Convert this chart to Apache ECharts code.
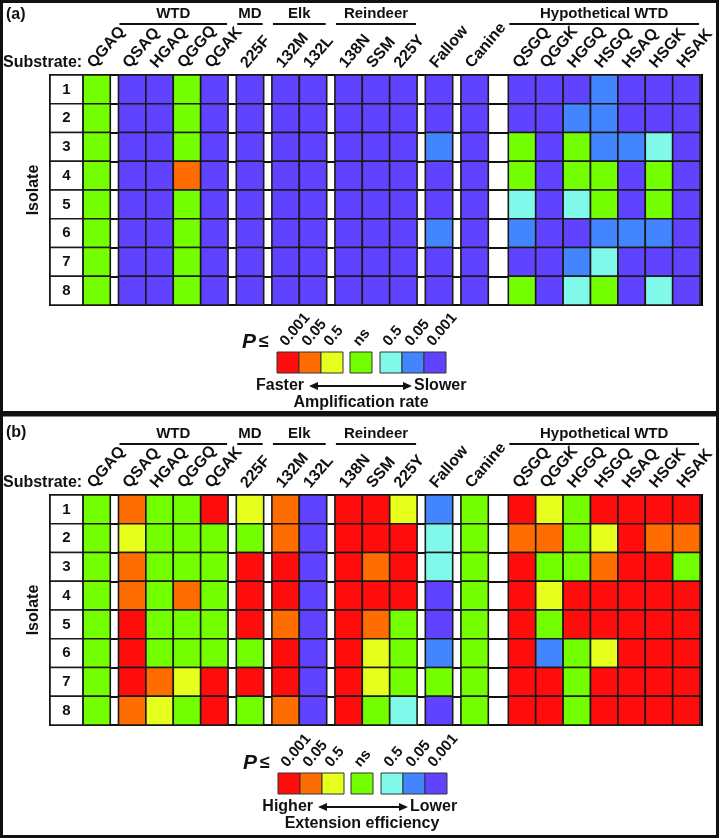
<!DOCTYPE html>
<html>
<head>
<meta charset="utf-8">
<style>
    html, body { margin: 0; padding: 0; background: #fff; }
    #chart { width: 720px; height: 838px; }
</style>
<script src="https://cdn.jsdelivr.net/npm/echarts@6/dist/echarts.min.js"></script>
</head>
<body>
<div id="chart"></div>
<script>
const isolates = ['1', '2', '3', '4', '5', '6', '7', '8']
const substrates = ['QGAQ', 'QSAQ', 'HGAQ', 'QGGQ', 'QGAK', '225F', '132M', '132L', '138N', 'SSM', '225Y',
    'Fallow', 'Canine', 'QSGQ', 'QGGK', 'HGGQ', 'HSGQ', 'HSAQ', 'HSGK', 'HSAK']
// header over each group of substrates ('' = no header)
const groupNames = ['', 'WTD', 'MD', 'Elk', 'Reindeer', '', '', 'Hypothetical WTD']
const groupSizes = [1, 4, 1, 2, 3, 1, 1, 7]

// 3 / 2 / 1 = faster (higher) at P <= 0.001 / 0.05 / 0.5, 0 = ns, -1 / -2 / -3 = slower (lower)
const levelCodes = [3, 2, 1, 0, -1, -2, -3]
const levelLabels = ['0.001', '0.05', '0.5', 'ns', '0.5', '0.05', '0.001']
const levelColors = ['#ff0d0d', '#ff6c00', '#e6ff1c', '#74ff00', '#80f8ea', '#4385ff', '#6043ff']

const amplification = [
    [0, -3, -3, 0, -3, -3, -3, -3, -3, -3, -3, -3, -3, -3, -3, -3, -2, -3, -3, -3],
    [0, -3, -3, 0, -3, -3, -3, -3, -3, -3, -3, -3, -3, -3, -3, -2, -2, -3, -3, -3],
    [0, -3, -3, 0, -3, -3, -3, -3, -3, -3, -3, -2, -3, 0, -3, 0, -2, -2, -1, -3],
    [0, -3, -3, 2, -3, -3, -3, -3, -3, -3, -3, -3, -3, 0, -3, 0, 0, -3, 0, -3],
    [0, -3, -3, 0, -3, -3, -3, -3, -3, -3, -3, -3, -3, -1, -3, -1, 0, -3, 0, -3],
    [0, -3, -3, 0, -3, -3, -3, -3, -3, -3, -3, -2, -3, -2, -3, -3, -2, -2, -2, -3],
    [0, -3, -3, 0, -3, -3, -3, -3, -3, -3, -3, -3, -3, -3, -3, -2, -1, -3, -3, -3],
    [0, -3, -3, 0, -3, -3, -3, -3, -3, -3, -3, -3, -3, 0, -3, -1, 0, -3, -1, -3],
]
const extension = [
    [0, 2, 0, 0, 3, 1, 2, -3, 3, 3, 1, -2, 0, 3, 1, 0, 3, 3, 3, 3],
    [0, 1, 0, 0, 0, 0, 2, -3, 3, 3, 3, -1, 0, 2, 2, 0, 1, 3, 2, 2],
    [0, 2, 0, 0, 0, 3, 3, -3, 3, 2, 3, -1, 0, 3, 0, 0, 2, 3, 3, 0],
    [0, 2, 0, 2, 0, 3, 3, -3, 3, 3, 3, -3, 0, 3, 1, 3, 3, 3, 3, 3],
    [0, 3, 0, 0, 0, 3, 2, -3, 3, 2, 0, -3, 0, 3, 0, 3, 3, 3, 3, 3],
    [0, 3, 0, 0, 0, 0, 3, -3, 3, 1, 0, -2, 0, 3, -2, 0, 1, 3, 3, 3],
    [0, 3, 2, 1, 3, 3, 3, -3, 3, 1, 0, 0, 0, 3, 3, 0, 3, 3, 3, 3],
    [0, 2, 1, 0, 3, 0, 2, -3, 3, 0, -1, -3, 0, 3, 3, 0, 3, 3, 3, 3],
]

const FONT = '"Liberation Sans", Arial, Helvetica, sans-serif'
const INK = '#111'
const TILT = 0.87 // label slant, radians

// column positions on the x value axis (1 unit = one cell)
const LABEL_W = 1.2
const GAP = 0.3
const SPACER = 0.73
const colStart = []
const groupSpan = []
let pos = LABEL_W
groupSizes.forEach((n, g) => {
    if (g > 0) pos += g === groupSizes.length - 1 ? SPACER : GAP
    const s = pos
    for (let i = 0; i < n; i++) {
        colStart.push(pos)
        pos += 1
    }
    groupSpan.push([s, pos])
})
const X_MAX = pos + 0.07

function bandTop(api) {
    const p = api.coord([0, 0])
    return p[1] - api.size([0, 1])[1] / 2
}

function renderCell(params, api) {
    const p = api.coord([api.value(0), api.value(1)])
    const s = api.size([1, 1])
    return {
        type: 'rect',
        shape: { x: p[0], y: p[1] - s[1] / 2, width: s[0], height: s[1] },
        style: { fill: api.visual('color'), stroke: '#1a1a1a', lineWidth: 1.6 },
    }
}

function renderIsolate(params, api) {
    const p = api.coord([0, api.value(1)])
    const s = api.size([LABEL_W, 1])
    return {
        type: 'group',
        children: [{
            type: 'rect',
            shape: { x: p[0], y: p[1] - s[1] / 2, width: s[0], height: s[1] },
            style: { fill: '#fff', stroke: '#1a1a1a', lineWidth: 1.6 },
        }, {
            type: 'text',
            x: p[0] + s[0] / 2,
            y: p[1],
            style: {
                text: isolates[params.dataIndex], font: 'bold 15px ' + FONT, fill: INK,
                align: 'center', verticalAlign: 'middle', textAlign: 'center', textVerticalAlign: 'middle',
            },
        }],
    }
}

function renderSubstrate(params, api) {
    const p = api.coord([api.value(0), 0])
    const top = bandTop(api)
    return {
        type: 'text',
        x: p[0] - 6,
        y: top - 9,
        rotation: TILT,
        style: {
            text: substrates[params.dataIndex], font: 'bold 16px ' + FONT, fill: INK,
            align: 'left', verticalAlign: 'middle', textAlign: 'left', textVerticalAlign: 'middle',
        },
    }
}

function renderHeader(params, api) {
    const a = api.coord([api.value(0), 0])
    const b = api.coord([api.value(2), 0])
    const top = bandTop(api)
    return {
        type: 'group',
        children: [{
            type: 'line',
            shape: { x1: a[0] + 1, y1: top - 51, x2: b[0] - 1, y2: top - 51 },
            style: { stroke: INK, lineWidth: 2 },
        }, {
            type: 'text',
            x: (a[0] + b[0]) / 2,
            y: top - 61,
            style: {
                text: groupNames[api.value(3)], font: 'bold 15px ' + FONT, fill: INK,
                align: 'center', verticalAlign: 'middle', textAlign: 'center', textVerticalAlign: 'middle',
            },
        }],
    }
}

function panelSeries(values, idx) {
    const cells = []
    values.forEach((row, r) => row.forEach((v, c) => cells.push([colStart[c], r, v])))
    const headers = []
    groupNames.forEach((n, g) => {
        if (n) headers.push([groupSpan[g][0], 0, groupSpan[g][1], g])
    })
    const common = { type: 'custom', xAxisIndex: idx, yAxisIndex: idx, silent: true, clip: false }
    return [
        Object.assign({}, common, { data: cells, encode: { x: 0, y: 1 }, renderItem: renderCell }),
        Object.assign({}, common, { data: isolates.map((s, i) => [0, i]), encode: { x: 0, y: 1 }, renderItem: renderIsolate }),
        Object.assign({}, common, { data: substrates.map((s, i) => [colStart[i] + 0.5, 0]), encode: { x: 0, y: 1 }, renderItem: renderSubstrate }),
        Object.assign({}, common, { data: headers, encode: { x: [0, 2], y: 1 }, renderItem: renderHeader }),
    ]
}

function txt(text, x, y, font, align, extra) {
    return Object.assign({
        type: 'text', x: x, y: y, silent: true,
        style: {
            text: text, font: font, fill: INK,
            align: align || 'left', verticalAlign: 'middle',
            textAlign: align || 'left', textVerticalAlign: 'middle',
        },
    }, extra || {})
}

function legendGraphic(ox, oy, left, right, title, arrowL, arrowR) {
    const xs = [277, 299, 321, 350, 380, 402, 424].map(v => v + ox)
    const top = 352 + oy
    const els = []
    xs.forEach((x, i) => {
        els.push({
            type: 'rect', silent: true,
            shape: { x: x, y: top, width: 22, height: 21 },
            style: { fill: levelColors[i], stroke: '#333', lineWidth: 1 },
        })
        els.push(txt(levelLabels[i], x + 6, top - 8, 'bold 15px ' + FONT, 'left', { rotation: TILT }))
    })
    els.push(txt('P', 242 + ox, top - 10, 'italic bold 21px ' + FONT))
    els.push(txt('≤', 259 + ox, top - 10, 'bold 18px ' + FONT))
    const ay = top + 34
    els.push(txt(left, arrowL - 5, ay, 'bold 16px ' + FONT, 'right'))
    els.push(txt(right, arrowR + 2, ay, 'bold 16px ' + FONT, 'left'))
    els.push({
        type: 'line', silent: true,
        shape: { x1: arrowL + 6, y1: ay, x2: arrowR - 6, y2: ay },
        style: { stroke: INK, lineWidth: 2 },
    })
    els.push({
        type: 'polygon', silent: true,
        shape: { points: [[arrowL, ay], [arrowL + 9, ay - 4], [arrowL + 9, ay + 4]] },
        style: { fill: INK },
    })
    els.push({
        type: 'polygon', silent: true,
        shape: { points: [[arrowR, ay], [arrowR - 9, ay - 4], [arrowR - 9, ay + 4]] },
        style: { fill: INK },
    })
    els.push(txt(title, 361 + ox, top + 51, 'bold 16px ' + FONT, 'center'))
    return els
}

const chart = echarts.init(document.getElementById('chart'))

const grids = [75, 495].map(t => ({
    left: 50, top: t, width: 652, height: 230,
    show: true, backgroundColor: '#fff', borderColor: '#000', borderWidth: 2,
}))
const xAxes = [0, 1].map(i => ({ type: 'value', gridIndex: i, min: 0, max: X_MAX, show: false }))
const yAxes = [0, 1].map(i => ({
    type: 'category', gridIndex: i, data: isolates, inverse: true,
    axisLine: { show: false }, axisTick: { show: false }, axisLabel: { show: false },
    splitLine: { show: true, interval: 0, lineStyle: { color: INK, width: 2 } },
    name: 'Isolate', nameLocation: 'middle', nameRotate: 90, nameGap: 8,
    nameTextStyle: { fontFamily: FONT, fontWeight: 'bold', fontSize: 16, color: INK },
}))

chart.setOption({
    animation: false,
    backgroundColor: '#fff',
    grid: grids,
    xAxis: xAxes,
    yAxis: yAxes,
    visualMap: {
        type: 'piecewise', show: false, dimension: 2, seriesIndex: [0, 4],
        pieces: levelCodes.map((v, i) => ({ value: v, color: levelColors[i] })),
    },
    series: panelSeries(amplification, 0).concat(panelSeries(extension, 1)),
    graphic: [
        { type: 'rect', silent: true, shape: { x: 1.5, y: 1.5, width: 716, height: 411 }, style: { fill: 'none', stroke: '#111', lineWidth: 3 } },
        { type: 'rect', silent: true, shape: { x: 1.5, y: 415, width: 716, height: 421.5 }, style: { fill: 'none', stroke: '#111', lineWidth: 3 } },
        txt('(a)', 6, 15, 'bold 16px ' + FONT),
        txt('(b)', 6, 433, 'bold 16px ' + FONT),
        txt('Substrate:', 3, 63, 'bold 16px ' + FONT),
        txt('Substrate:', 3, 483, 'bold 16px ' + FONT),
    ].concat(
        legendGraphic(0, 0, 'Faster', 'Slower', 'Amplification rate', 309, 412),
        legendGraphic(1, 421, 'Higher', 'Lower', 'Extension efficiency', 318, 408)
    ),
})
</script>
</body>
</html>
